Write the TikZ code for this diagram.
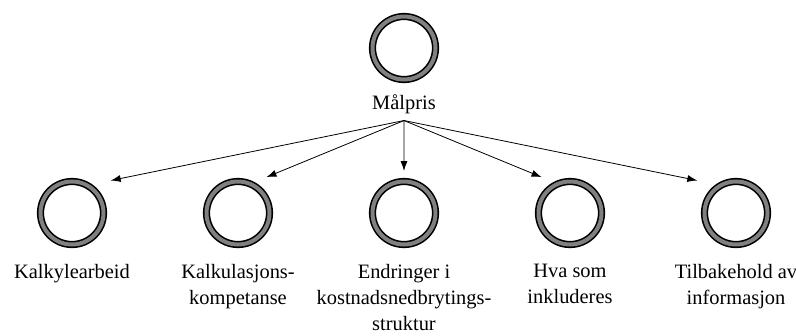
\documentclass[tikz,border=0pt]{standalone}
\usepackage{fontspec}
\setmainfont{LiberationSerif}[Extension=.ttf, UprightFont=*-Regular, BoldFont=*-Bold, ItalicFont=*-Italic, BoldItalicFont=*-BoldItalic]
\usetikzlibrary{positioning, arrows.meta}

\begin{document}
\begin{tikzpicture}[
        x=1bp, y=1bp,
        node distance=96bp and 96bp,
        % STYLES
        ring/.style = {circle, draw=black, line width=1.6bp, double=gray, double distance=4bp, minimum size=63bp, inner sep=0pt, outer sep=3.5bp},
        caption/.style = {align=center, inner sep=0pt, font=\rmfamily\fontsize{20.5}{26}\selectfont},
        pointer/.style = {draw, -{Latex[length=10bp,width=7bp]}, line width=0.8bp}
    ]
        \useasboundingbox (0,0) rectangle (796,-335);

        % --- NODES ---
        % Top: goal
        \node [ring] (malpris) at (404,-48) {};
        \node [caption, inner ysep=6bp, below=6bp of malpris] (malpris_txt) {Målpris};

        % Bottom row
        \node [ring] (kalkyle) at (72,-213) {};
        \node [ring, right=of kalkyle] (kompetanse) {};
        \node [ring, right=of kompetanse] (endringer) {};
        \node [ring, right=of endringer] (inkluderes) {};
        \node [ring, right=of inkluderes] (tilbakehold) {};

        % Captions
        \node [caption, below=16bp of kalkyle] (kalkyle_txt) {Kalkylearbeid};
        \node [caption, below=16bp of kompetanse] (kompetanse_txt) {Kalkulasjons-\\kompetanse};
        \node [caption, below=16bp of endringer] (endringer_txt) {Endringer i\\kostnadsnedbrytings-\\struktur};
        \node [caption, below=16bp of inkluderes] (inkluderes_txt) {Hva som\\inkluderes};
        \node [caption, below=16bp of tilbakehold] (tilbakehold_txt) {Tilbakehold av\\informasjon};

        % --- PATHS ---
        \path [pointer, shorten >=19bp] (malpris_txt.south) -- (kalkyle.55);
        \path [pointer, shorten >=13bp] (malpris_txt.south) -- (kompetanse.62);
        \path [pointer, shorten >=7bp] (malpris_txt.south) -- (endringer.north);
        \path [pointer, shorten >=13bp] (malpris_txt.south) -- (inkluderes.118);
        \path [pointer, shorten >=19bp] (malpris_txt.south) -- (tilbakehold.125);

    \end{tikzpicture}
\end{document}
